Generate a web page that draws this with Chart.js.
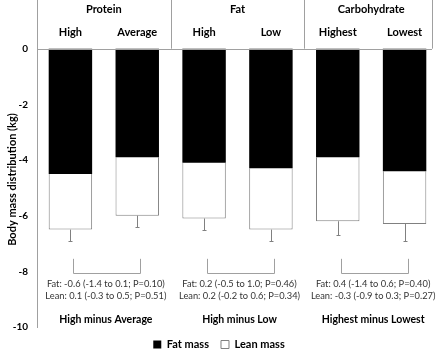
<!DOCTYPE html>
<html>
<head>
<meta charset="utf-8">
<script src="https://cdn.jsdelivr.net/npm/chart.js@4"></script>
<style>
  html, body { margin: 0; padding: 0; background: #fff; }
  #wrap { width: 440px; height: 349px; }
</style>
</head>
<body>
<div id="wrap"><canvas id="chart" width="440" height="349"></canvas></div>
<script>
const categories = ['High', 'Average', 'High', 'Low', 'Highest', 'Lowest'];
const groups = ['Protein', 'Fat', 'Carbohydrate'];
const fatMass = [-4.5, -3.9, -4.1, -4.3, -3.9, -4.4];
const leanMass = [-2.0, -2.1, -2.0, -2.2, -2.3, -1.9];
const errorLow = [-6.9, -6.4, -6.5, -6.9, -6.7, -6.9];
const contrasts = ['High minus Average', 'High minus Low', 'Highest minus Lowest'];
const fatDiff = [
  'Fat: -0.6 (-1.4 to 0.1; P=0.10)',
  'Fat: 0.2 (-0.5 to 1.0; P=0.46)',
  'Fat: 0.4 (-1.4 to 0.6; P=0.40)'
];
const leanDiff = [
  'Lean: 0.1 (-0.3 to 0.5; P=0.51)',
  'Lean: 0.2 (-0.2 to 0.6; P=0.34)',
  'Lean: -0.3 (-0.9 to 0.3; P=0.27)'
];
const yMin = -10;
const yStep = 2;

const FONT = 'Lato, "Open Sans", sans-serif';
const LINE = '#a0a0a0';

// header labels, separators, error bars, brackets and the difference notes
const overlay = {
  id: 'overlay',
  afterDatasetsDraw(chart) {
    const { ctx, chartArea, scales: { x, y } } = chart;
    const zeroY = y.getPixelForValue(0);
    const rightEdge = chartArea.right - 6;
    ctx.save();

    // zero line + group separators + right border of the header box
    ctx.strokeStyle = LINE;
    ctx.lineWidth = 1;
    ctx.beginPath();
    ctx.moveTo(chartArea.left, Math.round(zeroY) + 0.5);
    ctx.lineTo(rightEdge, Math.round(zeroY) + 0.5);
    for (let g = 1; g < groups.length; g++) {
      const sx = Math.round((x.getPixelForValue(g * 2 - 1) + x.getPixelForValue(g * 2)) / 2) + 0.5;
      ctx.moveTo(sx, chartArea.top);
      ctx.lineTo(sx, zeroY);
    }
    ctx.moveTo(Math.round(rightEdge) + 0.5, chartArea.top);
    ctx.lineTo(Math.round(rightEdge) + 0.5, zeroY);
    ctx.stroke();

    // error bars below each stack
    ctx.strokeStyle = '#808080';
    ctx.beginPath();
    categories.forEach((c, i) => {
      const cx = Math.round(x.getPixelForValue(i)) + 0.5;
      const top = y.getPixelForValue(fatMass[i] + leanMass[i]);
      const bot = Math.round(y.getPixelForValue(errorLow[i])) + 0.5;
      ctx.moveTo(cx, top);
      ctx.lineTo(cx, bot);
      ctx.moveTo(cx - 2, bot);
      ctx.lineTo(cx + 2, bot);
    });
    ctx.stroke();

    ctx.textAlign = 'center';
    ctx.textBaseline = 'middle';

    groups.forEach((g, k) => {
      const a = x.getPixelForValue(k * 2);
      const b = x.getPixelForValue(k * 2 + 1);
      const mid = (a + b) / 2;

      ctx.fillStyle = '#000';
      ctx.font = 'bold 11px ' + FONT;
      ctx.fillText(g, mid, zeroY - 39);
      ctx.fillText(categories[k * 2], a, zeroY - 16);
      ctx.fillText(categories[k * 2 + 1], b, zeroY - 16);
      ctx.font = 'bold 10.5px ' + FONT;
      ctx.fillText(contrasts[k], mid + 2, y.getPixelForValue(-9.75));

      // bracket joining the two bars
      const bt = y.getPixelForValue(-7.55);
      const bb = Math.round(y.getPixelForValue(-8.05)) + 0.5;
      ctx.strokeStyle = LINE;
      ctx.beginPath();
      ctx.moveTo(Math.round(a + 3) + 0.5, bt);
      ctx.lineTo(Math.round(a + 3) + 0.5, bb);
      ctx.lineTo(Math.round(b + 3) + 0.5, bb);
      ctx.lineTo(Math.round(b + 3) + 0.5, bt);
      ctx.stroke();

      ctx.font = '9.3px ' + FONT;
      ctx.fillStyle = '#333';
      ctx.fillText(fatDiff[k], mid + 2, y.getPixelForValue(-8.45));
      ctx.fillText(leanDiff[k], mid + 2, y.getPixelForValue(-8.9));
    });

    // y axis title
    ctx.translate(12, y.getPixelForValue(-4.7));
    ctx.rotate(-Math.PI / 2);
    ctx.font = 'bold 11px ' + FONT;
    ctx.fillStyle = '#000';
    ctx.fillText('Body mass distribution (kg)', 0, 0);
    ctx.restore();
  }
};

new Chart(document.getElementById('chart'), {
  type: 'bar',
  data: {
    labels: categories,
    datasets: [
      {
        label: 'Fat mass',
        data: fatMass,
        backgroundColor: '#000',
        borderColor: '#000',
        borderWidth: 0,
        barPercentage: 0.65,
        categoryPercentage: 1
      },
      {
        label: 'Lean mass',
        data: leanMass,
        backgroundColor: '#fff',
        borderColor: '#808080',
        borderWidth: 1,
        barPercentage: 0.65,
        categoryPercentage: 1
      }
    ]
  },
  options: {
    responsive: false,
    animation: false,
    layout: { padding: { left: 0, right: 2, top: 0, bottom: -11 } },
    scales: {
      x: {
        stacked: true,
        display: false
      },
      y: {
        stacked: true,
        min: yMin,
        max: 1.75,
        grid: { display: false, drawTicks: false },
        border: { display: true, color: LINE, width: 1 },
        ticks: {
          stepSize: yStep,
          padding: 9,
          color: '#000',
          font: { family: FONT, size: 10, weight: 'bold' }
        },
        afterBuildTicks: scale => {
          scale.ticks = scale.ticks.filter(t => t.value <= 0);
        },
        afterFit: scale => {
          scale.width = 37;
          scale.paddingTop = 0;
          scale.paddingBottom = 0;
        }
      }
    },
    plugins: {
      tooltip: { enabled: false },
      legend: {
        position: 'bottom',
        labels: {
          boxWidth: 8,
          boxHeight: 8,
          padding: 12,
          color: '#000',
          font: { family: FONT, size: 11, weight: 'bold' }
        }
      }
    }
  },
  plugins: [overlay]
});
</script>
</body>
</html>
